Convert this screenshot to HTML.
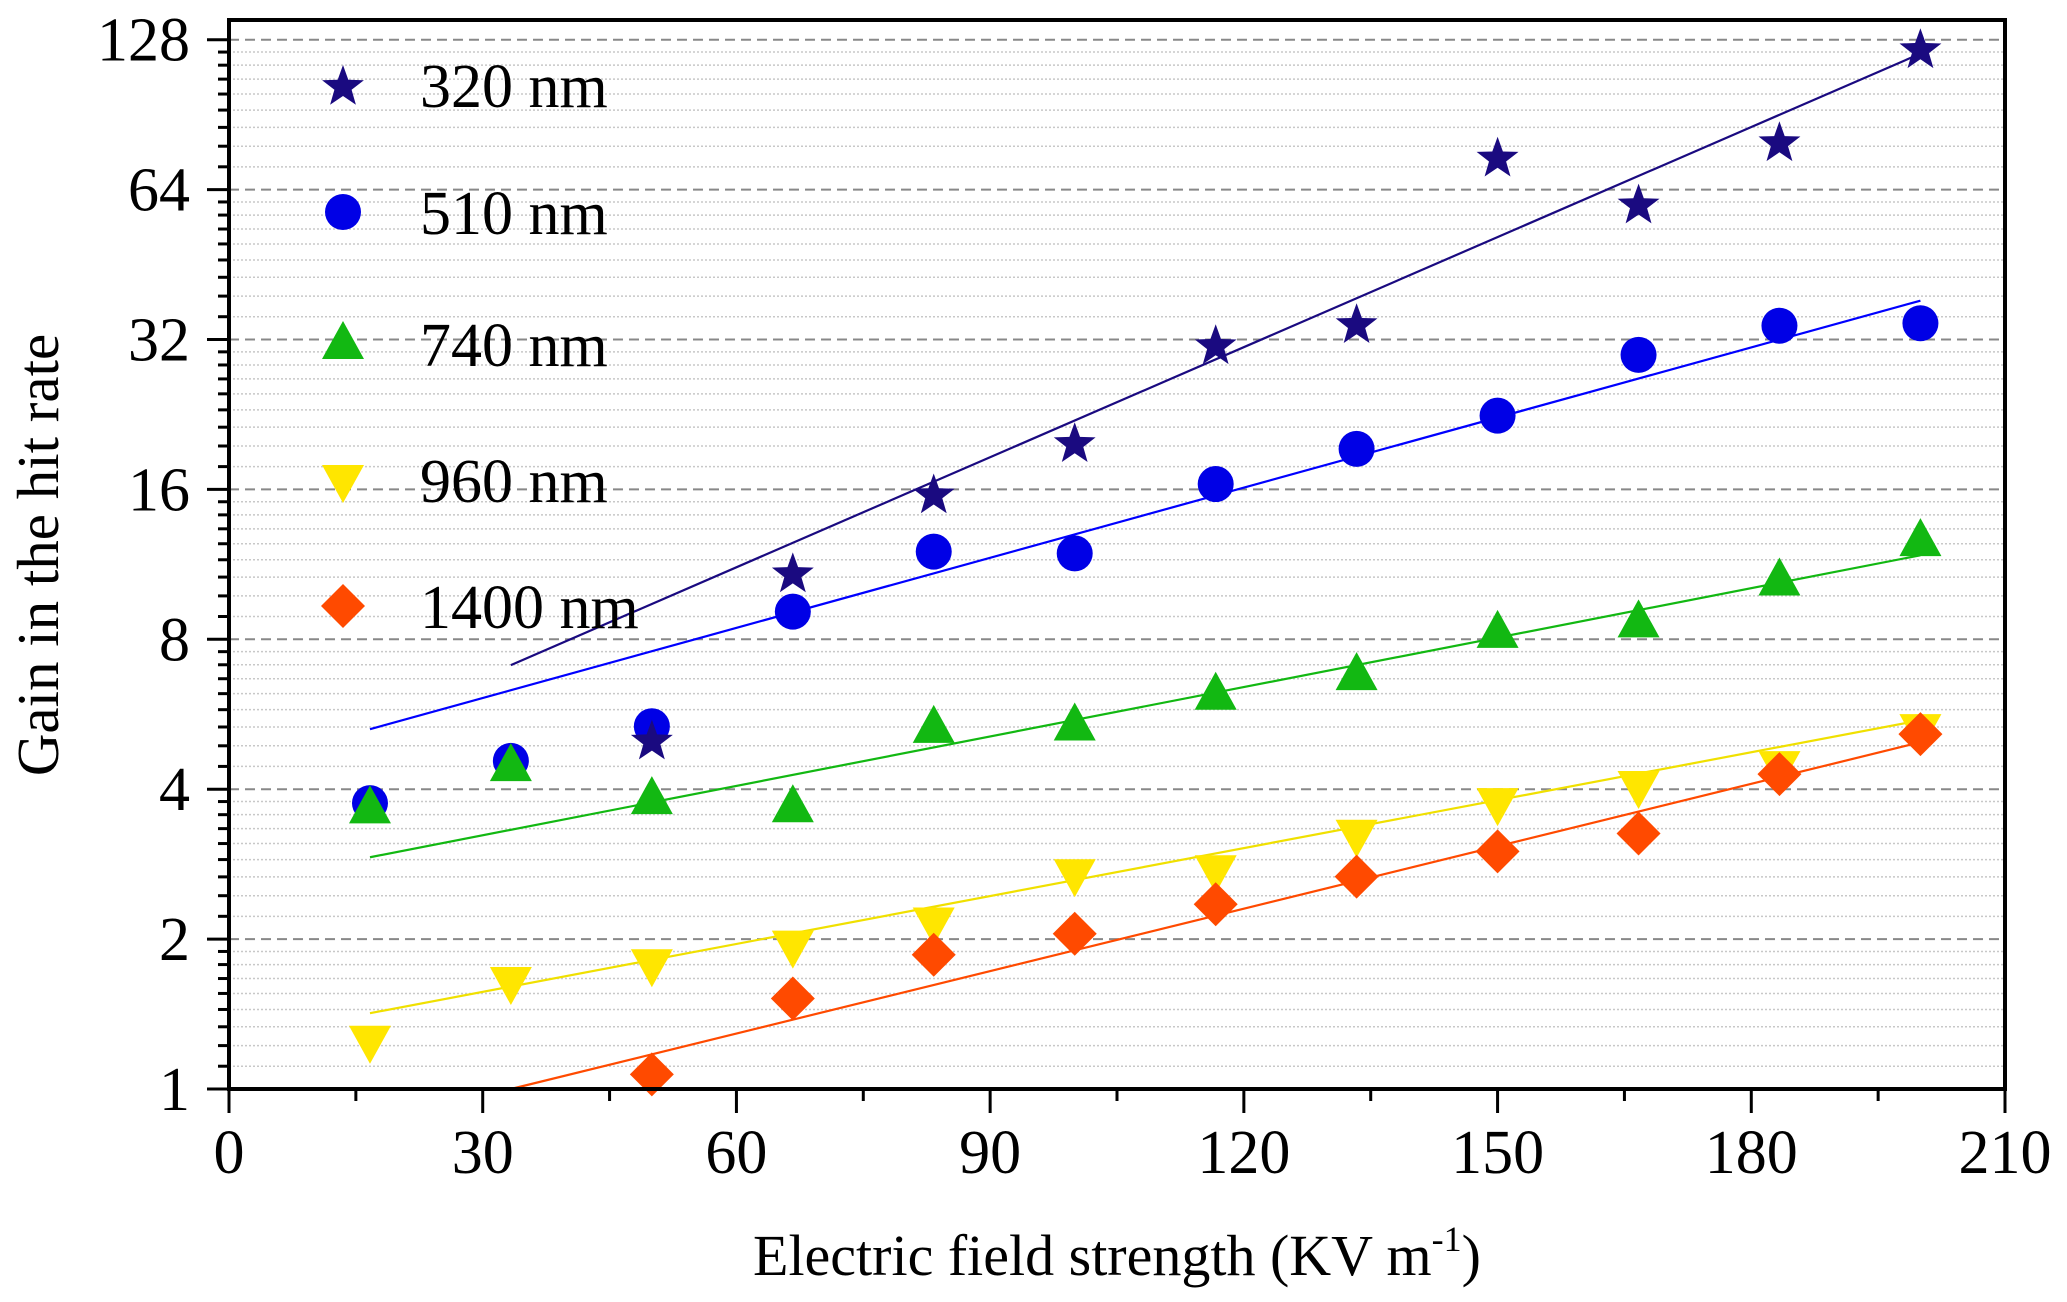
<!DOCTYPE html>
<html><head><meta charset="utf-8"><style>
html,body{margin:0;padding:0;background:#fff;}
svg{display:block;font-family:"Liberation Serif",serif;}
</style></head><body>
<svg id="chart" width="2067" height="1302" viewBox="0 0 2067 1302" xmlns="http://www.w3.org/2000/svg">
<g id="grid"></g>
<g id="fits"></g>
<g id="marks"></g>
<g id="axes"></g>
<g id="legend"></g>
<text x="0" y="0" transform="translate(58,555) rotate(-90)" font-size="59" text-anchor="middle">Gain in the hit rate</text>
<text x="1117" y="1275" font-size="58" text-anchor="middle">Electric field strength (KV m<tspan font-size="36" dy="-24">-1</tspan><tspan dy="24">)</tspan></text>
</svg>
<script>
const xValues=[16.67,33.33,50,66.67,83.33,100,116.67,133.33,150,166.67,183.33,200];
const s320=[null,null,5.03,10.9,15.7,19.9,31.3,34.5,74.5,60,80,123];
const s510=[3.75,4.56,5.35,9.09,12.0,11.9,16.4,19.3,22.5,29.8,34.1,34.5];
const s740=[3.66,4.45,3.82,3.68,5.31,5.37,6.19,6.78,8.24,8.65,10.5,12.6];
const s960=[1.25,1.64,1.78,1.94,2.16,2.70,2.75,3.24,3.75,4.06,4.45,5.28];
const s1400=[null,null,1.07,1.52,1.86,2.05,2.35,2.67,3.0,3.26,4.29,5.16];
const fitX0=[33.33,16.67,16.67,16.67,33.33];
const fitY0=[7.1,5.28,2.92,1.42,1.0];
const fitX1=[200,200,200,200,200];
const fitY1=[120,38.3,11.8,5.5,4.97];
const seriesNames=["320 nm","510 nm","740 nm","960 nm","1400 nm"];
const xTicks=[0,30,60,90,120,150,180,210];
const yTicks=[1,2,4,8,16,32,64,128];

const L=229,R=2005,T=20,B=1089;
const X=v=>L+(v-0)/(210-0)*(R-L);
const Y=v=>1089-Math.log2(v)*149.9;
const NS="http://www.w3.org/2000/svg";
function mk(tag,attrs,parent){const e=document.createElementNS(NS,tag);for(const k in attrs)e.setAttribute(k,attrs[k]);parent.appendChild(e);return e;}
const grid=document.getElementById('grid'),axes=document.getElementById('axes'),marks=document.getElementById('marks'),fits=document.getElementById('fits'),legend=document.getElementById('legend');

for(let o=0;o<7;o++){
  const base=Math.pow(2,o);
  for(let k=1;k<=8;k++){
    const y=Y(base*(1+k/9));
    const g=mk('line',{x1:L,x2:R,y1:y,y2:y,stroke:'#c8c8c8','stroke-width':1.5,'stroke-dasharray':'2,2'},grid);
    
    
    const t=mk('line',{x1:L-11,x2:L,y1:y,y2:y,stroke:'#000','stroke-width':3},axes);
    
    
  }
}
yTicks.forEach(v=>{
  const y=Y(v);
  if(v>1){const g=mk('line',{x1:L,x2:R,y1:y,y2:y,stroke:'#888','stroke-width':2,'stroke-dasharray':'10,6'},grid);
  
  }
  const t=mk('line',{x1:L-22,x2:L,y1:y,y2:y,stroke:'#000','stroke-width':3},axes);
  
  
  const tx=mk('text',{x:190,y:y+21,'font-size':62,'text-anchor':'end'},axes);
  tx.textContent=v;
  
  
});
for(let v=15;v<210;v+=30){
  const t=mk('line',{x1:X(v),x2:X(v),y1:B,y2:B+12,stroke:'#000','stroke-width':3},axes);
  
  
}
xTicks.forEach(v=>{
  const t=mk('line',{x1:X(v),x2:X(v),y1:B,y2:B+24,stroke:'#000','stroke-width':3},axes);
  
  
  const tx=mk('text',{x:X(v),y:1173,'font-size':62,'text-anchor':'middle'},axes);
  tx.textContent=v;
  
  
});
const frame=mk('rect',{x:L,y:T,width:R-L,height:B-T,fill:'none',stroke:'#000','stroke-width':4},axes);



const colors=['#1a0a80','#0000e6','#12b812','#ffe600','#ff4a00'];
const fitColors=['#1a0a80','#0000ff','#12b812','#f0e000','#ff4a00'];
function marker(type,cx,cy,col,parent){
  let e;
  if(type===0){const pts=[];for(let i=0;i<10;i++){const r=i%2?9:22;const a=-Math.PI/2+i*Math.PI/5;pts.push((cx+r*Math.cos(a)).toFixed(1)+','+(cy+2+r*Math.sin(a)).toFixed(1));}e=mk('polygon',{points:pts.join(' '),fill:col},parent);}
  else if(type===1)e=mk('circle',{cx:cx,cy:cy,r:18,fill:col},parent);
  else if(type===2)e=mk('polygon',{points:`${cx},${cy-23} ${cx-21},${cy+15} ${cx+21},${cy+15}`,fill:col},parent);
  else if(type===3)e=mk('polygon',{points:`${cx},${cy+23} ${cx-21},${cy-15} ${cx+21},${cy-15}`,fill:col},parent);
  else e=mk('polygon',{points:`${cx},${cy-22} ${cx+22},${cy} ${cx},${cy+22} ${cx-22},${cy}`,fill:col},parent);
  return e;
}
const all=[s320,s510,s740,s960,s1400];
for(let i=0;i<5;i++){
  const l=mk('line',{x1:X(fitX0[i]),y1:Y(fitY0[i]),x2:X(fitX1[i]),y2:Y(fitY1[i]),stroke:fitColors[i],'stroke-width':2.2},fits);
  
  
}
[1,0,2,3,4].forEach(i=>{
  all[i].forEach((v,j)=>{
    if(v==null)return;
    const m=marker(i,X(xValues[j]),Y(v),colors[i],marks);
    
    
  });
});
const ly=[85,212,344,480,606];
for(let i=0;i<5;i++){
  const m=marker(i,343,ly[i],colors[i],legend);
  
  
  const t=mk('text',{x:420,y:ly[i]+22,'font-size':62},legend);
  t.textContent=seriesNames[i];
  
  
}
</script>
</body></html>
